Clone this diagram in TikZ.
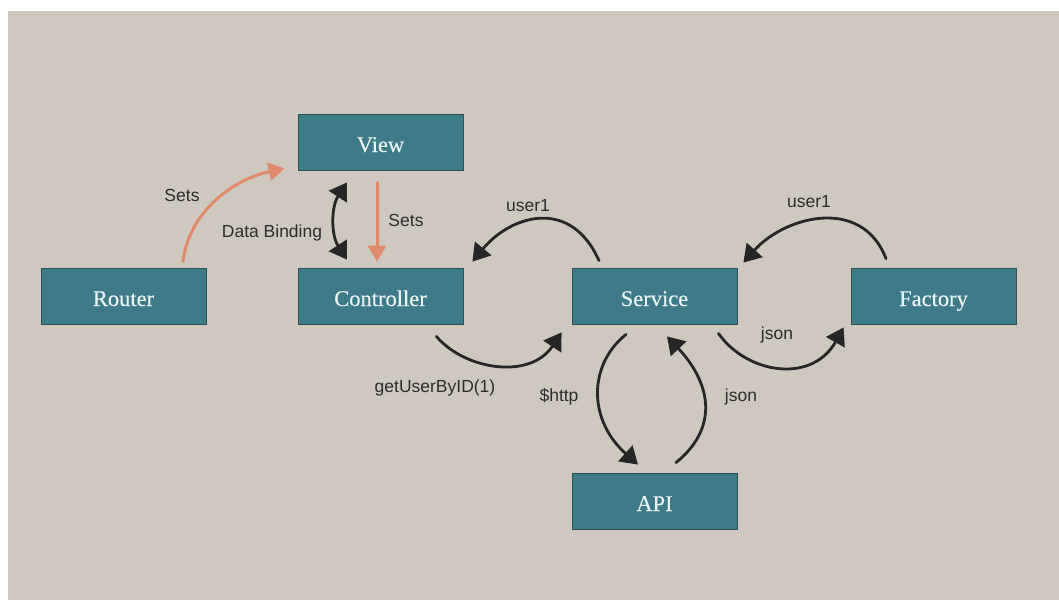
\documentclass[tikz,border=0pt]{standalone}
\usepackage{fontspec}
\setmainfont{Liberation Serif}
\newfontfamily\boxfont[FakeBold=0.12]{Liberation Serif}
\newfontfamily\labelfont{Liberation Sans}
\usetikzlibrary{arrows.meta,calc}
\definecolor{bgbeige}{RGB}{207,200,191}
\definecolor{tealfill}{RGB}{62,123,137}
\definecolor{tealborder}{RGB}{45,80,88}
\definecolor{boxtext}{RGB}{236,245,245}
\definecolor{salmon}{RGB}{224,138,108}
\definecolor{ink}{RGB}{38,38,38}
\definecolor{lbltext}{RGB}{45,45,45}
\tikzset{
  box/.style={rectangle, fill=tealfill, draw=tealborder, line width=0.8pt,
    minimum width=165pt, minimum height=56pt, inner sep=0pt, text=boxtext,
    text height=20pt, text depth=0pt,
    font=\boxfont\fontsize{22.5}{24}\selectfont},
  lbl/.style={text=lbltext, inner sep=0pt, font=\labelfont\fontsize{17.5}{20}\selectfont},
  darr/.style={draw=ink, line width=2.8pt, line cap=round,
    -{Triangle[length=17pt,width=21pt]}},
  dbl/.style={draw=ink, line width=2.8pt, line cap=round,
    {Triangle[length=17pt,width=21pt]}-{Triangle[length=17pt,width=21pt]}},
  oarr/.style={draw=salmon, line width=3pt, line cap=round,
    -{Triangle[length=16pt,width=18pt]}}
}
\begin{document}
\begin{tikzpicture}[x=1pt,y=-1pt]
\useasboundingbox (0,0) rectangle (1059,600);
\fill[white] (0,0) rectangle (1059,600);
\fill[bgbeige] (8,11) rectangle (1059,600);

\node[box] (View) at (380.5,142) {View};
\node[box] (Router) at (123.5,296) {Router};
\node[box] (Controller) at (380.5,296) {Controller};
\node[box] (Service) at (654.5,296) {Service};
\node[box] (Factory) at (933.5,296) {Factory};
\node[box] (API) at (654.5,501) {API};

% Router -> View
\draw[oarr] ($(Router.north)+(59.5,-6)$) .. controls (188,215) and (230,180) .. ($(View.south west)+(-13,-2)$);
% View -> Controller
\draw[oarr] ($(View.south)+(-3.5,12)$) -- ($(Controller.north)+(-3.5,-6)$);
% Data binding
\draw[dbl] ($(View.south)+(-33.5,12)$) .. controls (331,207) and (331,235) .. ($(Controller.north)+(-33.5,-8)$);
% Service -> Controller
\draw[darr] ($(Service.north)+(-55.5,-7)$) .. controls (570,196) and (510,216) .. ($(Controller.north east)+(9,-6)$);
% Factory -> Service
\draw[darr] ($(Factory.north)+(-47.5,-9)$) .. controls (862,196) and (785,216) .. ($(Service.north east)+(6,-5)$);
% Controller -> Service
\draw[darr] ($(Controller.south east)+(-27,12)$) .. controls (465,370) and (530,380) .. ($(Service.south west)+(-10,8)$);
% Service -> Factory
\draw[darr] ($(Service.south east)+(-19,9)$) .. controls (747,374) and (812,384) .. ($(Factory.south west)+(-7,3)$);
% Service -> API
\draw[darr] ($(Service.south)+(-28.5,10)$) .. controls (588,365) and (588,420) .. ($(API.north)+(-16.5,-8)$);
% API -> Service
\draw[darr] ($(API.north)+(21.5,-10)$) .. controls (722,425) and (708,380) .. ($(Service.south)+(12.5,12)$);

\node[lbl] (setsA) at (182,195) {Sets};
\node[lbl] (setsB) at (406,220) {Sets};
\node[lbl] (databinding) at (272,233) {Data Binding};
\node[lbl] (userA) at (528,206) {user1};
\node[lbl] (userB) at (809,202) {user1};
\node[lbl] (getuser) at (435,388) {getUserByID(1)};
\node[lbl] (http) at (559,397) {\$http};
\node[lbl] (jsonA) at (741,397) {json};
\node[lbl] (jsonB) at (777,335) {json};
\end{tikzpicture}
\end{document}
